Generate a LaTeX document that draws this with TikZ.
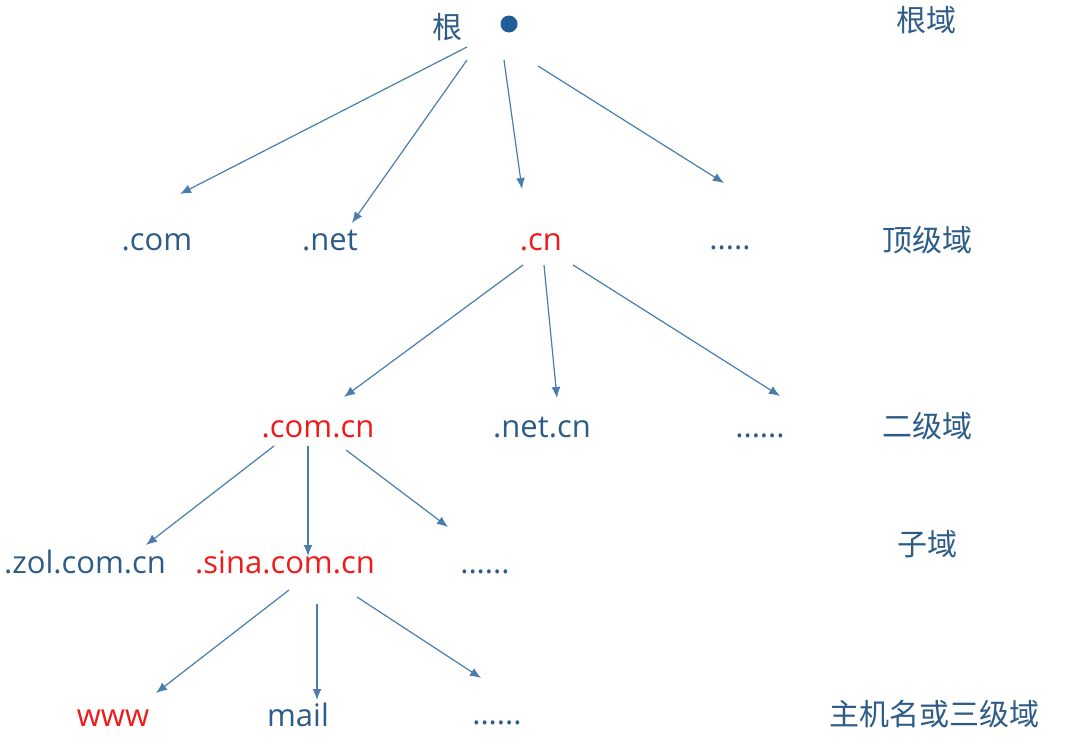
\documentclass[tikz,border=0pt]{standalone}
\usepackage{fontspec}
\setmainfont{Open Sans}
\newfontfamily\cjk{Noto Sans CJK SC}
\usetikzlibrary{arrows.meta}
\definecolor{txtblue}{HTML}{2D5C88}
\definecolor{lineblue}{HTML}{4A7CAC}
\definecolor{dotblue}{HTML}{1F5E96}
\definecolor{redtxt}{HTML}{F01A1A}
\tikzset{
  lbl/.style={text=txtblue, font=\fontsize{31}{33}\selectfont, inner sep=0pt, anchor=base},
  redlbl/.style={lbl, text=redtxt},
  zh/.style={text=txtblue, font=\cjk\fontsize{30}{32}\selectfont, inner sep=0pt, anchor=center},
  arr/.style={draw=lineblue, line width=1.2pt, -{Latex[length=11pt,width=9pt]}}
}
\begin{document}
\begin{tikzpicture}[x=1pt,y=-1pt]
\useasboundingbox (0,0) rectangle (1066,737);
% level labels
\node[zh] (l0) at (926,20) {根域};
\node[zh] (l1) at (927,240) {顶级域};
\node[zh] (l2) at (927,426) {二级域};
\node[zh] (l3) at (927,544) {子域};
\node[zh] (l4) at (934,714) {主机名或三级域};
% root
\node[zh] (gen) at (447,27) {根};
\node[circle, fill=dotblue, minimum size=17pt, inner sep=0pt] (root) at (509,24) {};
% top level
\node[lbl] (com) at (157,250) {.com};
\node[lbl] (net) at (330,250) {.net};
\node[redlbl] (cn) at (541,250) {.cn};
\node[lbl] (d1) at (730,249) {.....};
% second level
\node[redlbl] (comcn) at (318,437) {.com.cn};
\node[lbl] (netcn) at (542,437) {.net.cn};
\node[lbl] (d2) at (760,437) {......};
% sub
\node[lbl] (zol) at (85,573) {.zol.com.cn};
\node[redlbl] (sina) at (285,573) {.sina.com.cn};
\node[lbl] (d3) at (485,573) {......};
% hosts
\node[redlbl] (www) at (113,726) {www};
\node[lbl] (mail) at (298,726) {mail};
\node[lbl] (d4) at (497,724) {......};
% arrow endpoints
\coordinate (r1) at (467,47);  \coordinate (e1) at (180,194);
\coordinate (r2) at (467,60);  \coordinate (e2) at (352,223);
\coordinate (r3) at (504,60);  \coordinate (e3) at (522,189);
\coordinate (r4) at (538,66);  \coordinate (e4) at (724,183);
\coordinate (c1) at (523,265); \coordinate (f1) at (344,397);
\coordinate (c2) at (544,265); \coordinate (f2) at (557,398);
\coordinate (c3) at (573,265); \coordinate (f3) at (780,396);
\coordinate (s1) at (274,446); \coordinate (g1) at (146,545);
\coordinate (s2) at (308,446); \coordinate (g2) at (308,556);
\coordinate (s3) at (346,450); \coordinate (g3) at (448,527);
\coordinate (t1) at (289,590); \coordinate (h1) at (156,693);
\coordinate (t2) at (317,604); \coordinate (h2) at (317,700);
\coordinate (t3) at (357,597); \coordinate (h3) at (481,678);
\draw[arr] (r1) -- (e1);
\draw[arr] (r2) -- (e2);
\draw[arr] (r3) -- (e3);
\draw[arr] (r4) -- (e4);
\draw[arr] (c1) -- (f1);
\draw[arr] (c2) -- (f2);
\draw[arr] (c3) -- (f3);
\draw[arr] (s1) -- (g1);
\draw[arr] (s2) -- (g2);
\draw[arr] (s3) -- (g3);
\draw[arr] (t1) -- (h1);
\draw[arr] (t2) -- (h2);
\draw[arr] (t3) -- (h3);
\end{tikzpicture}
\end{document}
